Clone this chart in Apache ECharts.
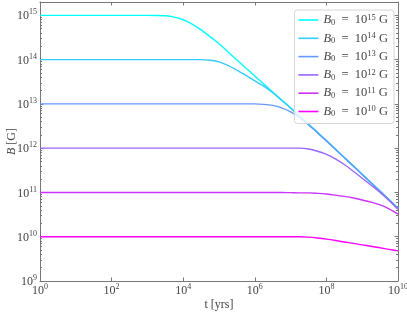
<!DOCTYPE html>
<html><head><meta charset="utf-8">
<script src="https://cdn.jsdelivr.net/npm/echarts@6/dist/echarts.min.js"></script>
<style>html,body{margin:0;padding:0;background:#fff}#c{width:407px;height:313px}</style>
</head><body><div id="c"></div>
<script>
// time samples [yrs]
const tYears = [1, 10, 100, 1000, 1778, 3162, 5623, 1e4, 17783, 31623, 56234, 1e5, 177828, 316228, 562341, 1e6,
  1778279, 3162278, 5623413, 1e7, 17782794, 31622777, 56234133, 1e8, 177827941, 316227766, 562341325,
  1e9, 1778279410, 3162277660, 5623413252, 1e10];
// field strength [G] for each initial field
const B15 = [1e15, 1e15, 1e15, 1e15, 9.95e14, 9.77e14, 9.12e14, 7.94e14, 6.31e14, 4.68e14, 3.31e14, 2.29e14, 1.51e14,
  9.77e13, 6.46e13, 4.27e13, 2.82e13, 1.86e13, 1.23e13, 8.13e12, 5.25e12, 3.47e12, 2.29e12, 1.48e12,
  9.55e11, 6.17e11, 3.98e11, 2.57e11, 1.66e11, 1.07e11, 6.92e10, 4.37e10];
const B14 = [1e14, 1e14, 1e14, 1e14, 1e14, 1e14, 1e14, 1e14, 1e14, 1e14, 9.66e13, 8.91e13, 7.41e13,
  5.75e13, 4.42e13, 3.31e13, 2.51e13, 1.78e13, 1.2e13, 8.07e12, 5.21e12, 3.44e12, 2.27e12, 1.47e12,
  9.48e11, 6.12e11, 3.95e11, 2.55e11, 1.65e11, 1.06e11, 6.87e10, 4.33e10];
const B13 = [1e13, 1e13, 1e13, 1e13, 1e13, 1e13, 1e13, 1e13, 1e13, 1e13, 1e13, 1e13, 1e13,
  1e13, 1e13, 1e13, 9.77e12, 9.23e12, 8.13e12, 6.61e12, 4.9e12, 3.39e12, 2.24e12, 1.46e12,
  9.44e11, 6.1e11, 3.94e11, 2.54e11, 1.64e11, 1.06e11, 6.85e10, 4.3e10];
const B12 = [1e12, 1e12, 1e12, 1e12, 1e12, 1e12, 1e12, 1e12, 1e12, 1e12, 1e12, 1e12, 1e12,
  1e12, 1e12, 1e12, 1e12, 1e12, 1e12, 1e12, 1e12, 9.55e11, 8.51e11, 7.24e11,
  5.75e11, 4.27e11, 3.02e11, 2.09e11, 1.45e11, 1.0e11, 6.61e10, 4.17e10];
const B11 = [1e11, 1e11, 1e11, 1e11, 1e11, 1e11, 1e11, 1e11, 1e11, 1e11, 1e11, 1e11, 1e11,
  1e11, 1e11, 1e11, 1e11, 1e11, 1e11, 9.89e10, 9.77e10, 9.77e10, 9.55e10, 9.23e10,
  8.71e10, 8.13e10, 7.5e10, 6.76e10, 6.03e10, 5.25e10, 4.27e10, 3.24e10];
const B10 = [1e10, 1e10, 1e10, 1e10, 1e10, 1e10, 1e10, 1e10, 1e10, 1e10, 1e10, 1e10, 1e10,
  1e10, 1e10, 1e10, 1e10, 1e10, 1e10, 1e10, 1e10, 9.77e9, 9.33e9, 8.81e9,
  8.22e9, 7.59e9, 7.08e9, 6.53e9, 6.1e9, 5.62e9, 5.19e9, 4.79e9];
const seriesExps = ['15', '14', '13', '12', '11', '10'];
const seriesData = [B15, B14, B13, B12, B11, B10];
const colors = ['#00ffff', '#33ccff', '#6699ff', '#9966ff', '#cc33ff', '#ff00ff'];
const xLabel = 't [yrs]';
const yLabel = 'B [G]';

const F = '"Liberation Serif", "DejaVu Serif", serif';
const TXT = '#444';
const AX = '#777';

function powLabel(v) {
  const e = Math.log10(v), r = Math.round(e);
  if (Math.abs(e - r) > 1e-6) return '';
  return '{b|10}{s|' + r + '}';
}
const tickRich = {
  b: { fontFamily: F, fontSize: 12, color: TXT, lineHeight: 14, verticalAlign: 'bottom' },
  s: { fontFamily: F, fontSize: 8, color: TXT, lineHeight: 8, verticalAlign: 'top' }
};

function mkX(pos, showLabel) {
  return {
    type: 'log', logBase: 10, min: 1, max: 1e10, interval: 2, position: pos,
    axisLine: { show: true, onZero: false, lineStyle: { color: AX, width: 1 } },
    axisTick: { show: true, inside: true, length: 3.5, lineStyle: { color: AX } },
    minorTick: { show: false },
    splitLine: { show: false },
    axisLabel: { show: showLabel, margin: 2, formatter: powLabel, rich: tickRich },
    name: showLabel ? xLabel : '', nameLocation: 'middle', nameGap: 18, nameMoveOverlap: false,
    nameTextStyle: { fontFamily: F, fontSize: 12, color: TXT }
  };
}
function mkY(pos, showLabel) {
  return {
    type: 'log', logBase: 10, min: 1e9, max: 2e15, interval: 1, position: pos,
    axisLine: { show: true, onZero: false, lineStyle: { color: AX, width: 1 } },
    axisTick: { show: true, inside: true, length: 3.5, lineStyle: { color: AX } },
    minorTick: { show: true, splitNumber: 9, length: 2, lineStyle: { color: AX } },
    splitLine: { show: false },
    axisLabel: { show: showLabel, margin: 3, formatter: powLabel, rich: tickRich },
    name: showLabel ? '{i|B} [G]' : '', nameLocation: 'middle', nameGap: 22, nameMoveOverlap: false,
    nameTextStyle: { fontFamily: F, fontSize: 12, color: TXT,
      rich: { i: { fontFamily: F, fontSize: 12, fontStyle: 'italic', color: TXT } } }
  };
}

const series = seriesData.map((arr, i) => ({
  name: 'B0 = 10^' + seriesExps[i] + ' G',
  type: 'line', xAxisIndex: 0, yAxisIndex: 0,
  data: tYears.map((t, j) => [t, arr[j]]),
  showSymbol: false, symbol: 'none', smooth: 0.3,
  lineStyle: { color: colors[i], width: 1.4 },
  itemStyle: { color: colors[i] }
}));

const chart = echarts.init(document.getElementById('c'), null, { renderer: 'canvas' });
chart.setOption({
  animation: false,
  backgroundColor: '#fff',
  grid: { left: 40, right: 9, top: 2, bottom: 32, containLabel: false, outerBoundsMode: 'none' },
  xAxis: [mkX('bottom', true), mkX('top', false)],
  yAxis: [mkY('left', true), mkY('right', false)],
  legend: {
    orient: 'vertical', top: 10, right: 13,
    icon: 'rect', itemWidth: 20, itemHeight: 1.6, itemGap: 4.3,
    padding: [3, 6, 5, 4],
    backgroundColor: 'rgba(255,255,255,0.8)', borderColor: '#d6d6d6', borderWidth: 1, borderRadius: 3,
    data: series.map(s => s.name),
    formatter: function (name) {
      const e = name.match(/10\^(\d+)/)[1];
      return '{i|B}{sub|0}{t|  =  10}{sup|' + e + '}{t| G}';
    },
    textStyle: {
      fontFamily: F, fontSize: 12.5, color: TXT,
      rich: {
        i: { fontFamily: F, fontSize: 12.5, fontStyle: 'italic', color: TXT, lineHeight: 14 },
        sub: { fontFamily: F, fontSize: 8.5, color: TXT, lineHeight: 8, verticalAlign: 'bottom' },
        t: { fontFamily: F, fontSize: 12.5, color: TXT, lineHeight: 14 },
        sup: { fontFamily: F, fontSize: 8.5, color: TXT, lineHeight: 8, verticalAlign: 'top' }
      }
    }
  },
  series: series
});
</script></body></html>
